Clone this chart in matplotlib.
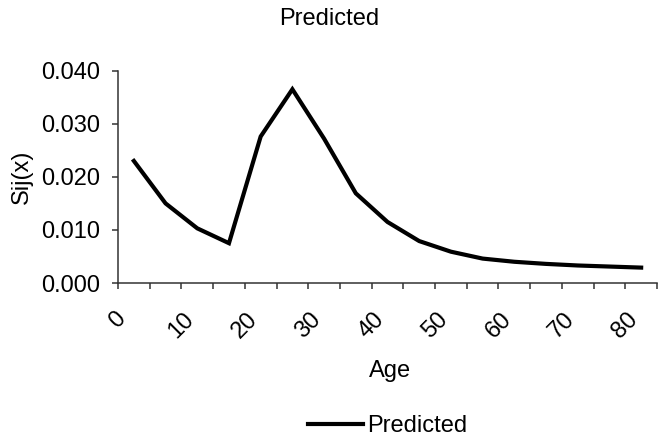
import numpy as np
import matplotlib
matplotlib.use("Agg")
import matplotlib.pyplot as plt
import matplotlib.transforms as mtransforms
from matplotlib.ticker import MultipleLocator, FormatStrFormatter

plt.rcParams['font.family'] = ['Liberation Sans', 'DejaVu Sans']

## Data

ages = [2.5, 7.5, 12.5, 17.5, 22.5, 27.5, 32.5, 37.5, 42.5,
        47.5, 52.5, 57.5, 62.5, 67.5, 72.5, 77.5, 82.5]
predicted = [0.0230, 0.0150, 0.0103, 0.0075, 0.0276, 0.0365, 0.0272, 0.0169, 0.0115,
             0.0079, 0.0059, 0.0046, 0.0040, 0.0036, 0.0033, 0.0031, 0.0029]
x_labels = [0, 10, 20, 30, 40, 50, 60, 70, 80]
y_ticks = [0.000, 0.010, 0.020, 0.030, 0.040]

fs = 17
W, H = 659, 442

fig = plt.figure(figsize=(W / 100, H / 100), dpi=100)
ax = fig.add_axes([118 / W, 1 - 283 / H, (657 - 118) / W, (283 - 70.7) / H])

ax.plot(ages, predicted, color='black', lw=3.0, solid_joinstyle='miter',
        label='Predicted')

ax.set_xlim(0, 85)
ax.set_ylim(0, 0.040)
ax.set_yticks(y_ticks)
ax.yaxis.set_major_formatter(FormatStrFormatter('%.3f'))
ax.set_xticks(x_labels)
ax.set_xticklabels([str(v) for v in x_labels], rotation=45, ha='center', va='top')
ax.xaxis.set_minor_locator(MultipleLocator(5))

# nudge the rotated labels a little left, like the original
shift = mtransforms.ScaledTranslation(-3 / 100, 0, fig.dpi_scale_trans)
for lbl in ax.get_xticklabels():
    lbl.set_transform(lbl.get_transform() + shift)

for side in ('top', 'right'):
    ax.spines[side].set_visible(False)
for side in ('left', 'bottom'):
    ax.spines[side].set_color('#333333')
    ax.spines[side].set_linewidth(1.1)

ax.tick_params(axis='y', which='major', direction='out', length=4, width=1.1,
               color='#333333', labelsize=fs, pad=9)
ax.tick_params(axis='x', which='both', direction='out', length=4, width=1.1,
               color='#333333', labelsize=fs, pad=14)

ax.set_xlabel('Age', fontsize=fs)
ax.set_ylabel('Sij(x)', fontsize=fs)
ax.xaxis.set_label_coords((390 - 118) / (657 - 118), -(377 - 283) / (283 - 70.7))
ax.xaxis.label.set_va('baseline')
ax.yaxis.set_label_coords(-(118 - 33) / (657 - 118), 0.5)

fig.text(0.5, 1 - 19 / H, 'Predicted', fontsize=fs, ha='center', va='center')

leg = fig.legend(loc='center', bbox_to_anchor=(388 / W, 1 - 426 / H), frameon=False,
                 fontsize=fs, handlelength=2.3, handletextpad=0.2)

fig.savefig('out.png', dpi=100)
